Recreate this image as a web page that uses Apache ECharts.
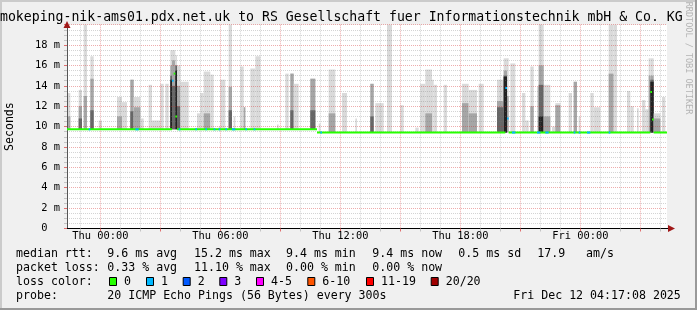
<!DOCTYPE html>
<html><head><meta charset="utf-8">
<script src="https://cdn.jsdelivr.net/npm/echarts@6/dist/echarts.min.js"></script>
<style>html,body{margin:0;padding:0;background:#f0f0f0}#c{width:697px;height:310px}</style>
</head><body><div id="c"></div>
<script>
// ---------- data ----------
const slotCount = 360; // 300 s steps, Wed 22:20 .. Fri 04:20
const xTickIdx = [20, 92, 164, 236, 308];
const xTickLabels = ['Thu 00:00', 'Thu 06:00', 'Thu 12:00', 'Thu 18:00', 'Fri 00:00'];
const yMin = 0, yMax = 20, yStep = 2;

// median rtt (ms) segments: start slot, length, value, lost pings
const medianStart = [0, 63, 64, 65, 66, 150, 263, 264, 265, 350, 351, 352,
  13, 41, 67, 77, 83, 88, 91, 95, 99, 107, 112,
  152, 267, 282, 287, 304, 307, 312, 325];
const medianLen = [63, 1, 1, 1, 84, 113, 1, 1, 85, 1, 1, 8,
  1, 2, 1, 1, 1, 1, 1, 1, 2, 1, 1,
  1, 2, 2, 2, 1, 1, 2, 1];
const medianVal = [9.73, 14.5, 15.2, 11.0, 9.73, 9.42, 13.8, 10.8, 9.42, 13.4, 10.7, 9.42,
  9.73, 9.73, 9.73, 9.73, 9.73, 9.73, 9.73, 9.73, 9.73, 9.73, 9.73,
  9.42, 9.42, 9.42, 9.42, 9.42, 9.42, 9.42, 9.42];
const medianLoss = [0, 1, 0, 0, 0, 0, 1, 1, 0, 0, 0, 0,
  1, 1, 1, 1, 1, 1, 1, 1, 1, 1, 1,
  1, 1, 1, 1, 1, 1, 1, 1];

// smoke (ping spread, ms): start slot, length, top of light / mid / dark / black bands
const smokeStart = [0, 7, 10, 14, 19, 30, 33, 38, 40, 44, 49, 51, 56, 59, 62, 63, 65, 66, 68, 78, 80, 82, 86, 91, 92, 97, 100, 104, 106, 110, 113, 126, 131, 134, 136,
  146, 151, 157, 165, 173, 182, 185, 192, 200, 209, 212, 215, 219, 220, 226, 237, 241, 247, 258, 262, 264, 266, 273, 275, 278, 282, 283, 286, 291, 293, 301, 304, 307, 314, 316, 325, 328, 336, 338, 342, 345, 347, 349, 350, 352, 357];
const smokeLen = [2, 2, 2, 2, 2, 3, 3, 2, 4, 2, 2, 5, 2, 2, 1, 2, 1, 2, 5, 2, 2, 4, 2, 1, 3, 2, 1, 2, 1, 3, 3, 1, 2, 2, 3,
  3, 1, 4, 3, 1, 2, 5, 3, 2, 2, 3, 4, 1, 2, 2, 4, 5, 3, 4, 2, 1, 3, 2, 2, 2, 2, 3, 4, 2, 3, 2, 2, 1, 2, 4, 3, 2, 2, 2, 1, 2, 2, 1, 2, 4, 2];
const smokeLight = [13.3, 13.6, 20.5, 16.9, 10.6, 12.9, 12.4, 14.6, 12.9, 10.8, 14.1, 10.6, 14.2, 14.2, 17.5, 17.5, 17.0, 16.0, 14.4, 11.3, 13.3, 15.4, 15.1, 10.0, 14.6, 20.5, 11.0, 15.9, 11.9, 15.7, 16.9, 10.2, 15.2, 15.2, 14.2,
  14.7, 10.3, 15.6, 13.3, 10.8, 14.2, 12.3, 20.5, 12.1, 9.9, 14.2, 15.6, 14.6, 14.1, 14.1, 14.2, 13.6, 14.2, 14.6, 16.7, 16.7, 16.2, 13.3, 10.6, 15.9, 13.9, 20.5, 14.1, 10.0, 12.3, 13.3, 14.4, 11.0, 13.3, 11.9, 20.5, 20.5, 13.5, 12.0, 11.8, 12.6, 11.7, 16.7, 16.7, 11.3, 12.9];
const smokeMid = [11.0, 12.0, 13.0, 14.7, 0, 11.0, 0, 14.6, 11.9, 0, 0, 0, 0, 0, 16.0, 16.5, 16.0, 14.0, 0, 0, 0, 11.3, 0, 0, 0, 13.9, 0, 0, 11.9, 0, 0, 0, 0, 15.2, 0,
  14.7, 0, 11.3, 0, 0, 14.2, 0, 0, 0, 0, 0, 11.3, 0, 0, 0, 12.3, 11.3, 0, 12.5, 15.5, 13.0, 0, 0, 0, 12.0, 0, 16.0, 11.0, 0, 12.1, 0, 14.4, 0, 0, 0, 15.2, 0, 0, 0, 0, 0, 0, 15.0, 15.0, 10.8, 0];
const smokeDark = [0, 10.8, 0, 11.6, 0, 0, 0, 11.5, 0, 0, 0, 0, 0, 0, 15.0, 14.0, 16.0, 12.0, 0, 0, 0, 0, 0, 0, 0, 11.6, 0, 0, 0, 0, 0, 0, 0, 11.6, 0,
  11.6, 0, 0, 0, 0, 11.0, 0, 0, 0, 0, 0, 0, 0, 0, 0, 0, 0, 0, 11.9, 15.0, 0, 0, 0, 0, 0, 0, 14.1, 0, 0, 0, 0, 0, 0, 0, 0, 0, 0, 0, 0, 0, 0, 0, 0, 14.6, 0, 0];
const smokeBlack = [0, 0, 0, 0, 0, 0, 0, 0, 0, 0, 0, 0, 0, 0, 14.6, 0, 15.5, 0, 0, 0, 0, 0, 0, 0, 0, 0, 0, 0, 0, 0, 0, 0, 0, 0, 0,
  0, 0, 0, 0, 0, 0, 0, 0, 0, 0, 0, 0, 0, 0, 0, 0, 0, 0, 0, 14.9, 0, 0, 0, 0, 0, 0, 11.0, 0, 0, 0, 0, 0, 0, 0, 0, 0, 0, 0, 0, 0, 0, 0, 0, 14.4, 0, 0];

const lossLabels = ['0', '1', '2', '3', '4-5', '6-10', '11-19', '20/20'];
const lossColors = ['#26ff00', '#00b8ff', '#0059ff', '#7e00ff', '#ff00ff', '#ff5500', '#ff0000', '#a00000'];

const statRows = [
  ['median rtt:', '9.6 ms avg', '15.2 ms max', '9.4 ms min', '9.4 ms now', '0.5 ms sd', '17.9', 'am/s'],
  ['packet loss:', '0.33 % avg', '11.10 % max', '0.00 % min', '0.00 % now']
];
const probeText = '20 ICMP Echo Pings (56 Bytes) every 300s';
const stampText = 'Fri Dec 12 04:17:08 2025';
const titleText = 'smokeping-nik-ams01.pdx.net.uk to RS Gesellschaft fuer Informationstechnik mbH & Co. KG';

// ---------- layout / style ----------
const MONO = '"DejaVu Sans Mono", monospace';
const smokeColors = ['#dadada', '#a6a6a6', '#666666', '#222222'];
const statX = [16, 107.3, 194, 286, 372.3, 458.3, 537.3, 586];
const rowY = [254, 268, 282, 296];
const boxX = [109, 146, 182.7, 219.3, 256, 307.3, 366, 430.7];

const cats = Array.from({length: slotCount + 1}, (_, i) => i);
const tickLabel = {};
xTickIdx.forEach((v, k) => tickLabel[v] = xTickLabels[k]);

const medianData = medianStart.map((s, k) => [s, medianLen[k], medianVal[k], medianLoss[k]]);
const smokeData = smokeStart.map((s, k) => [s, smokeLen[k], smokeLight[k], smokeMid[k], smokeDark[k], smokeBlack[k]]);

function baseAt(i) {
  let b = medianVal[0];
  for (let k = 0; k < medianStart.length; k++) {
    if (medianLen[k] >= 8 && medianStart[k] <= i) b = medianVal[k];
  }
  return b;
}

function smokeItem(params, api) {
  const s = api.value(0), n = api.value(1);
  const base = baseAt(s);
  const children = [];
  for (let j = 0; j < 4; j++) {
    let top = api.value(2 + j);
    if (!top || top <= base) continue;
    top = Math.min(top, yMax);
    const p0 = api.coord([s, base]);
    const p1 = api.coord([s + n, top]);
    children.push({type: 'rect', shape: {x: p0[0], y: p1[1], width: p1[0] - p0[0], height: p0[1] - p1[1]},
      style: {fill: smokeColors[j]}});
  }
  return {type: 'group', children};
}

function medianItem(params, api) {
  const s = api.value(0), n = api.value(1), v = api.value(2), loss = api.value(3);
  const p0 = api.coord([s, v]);
  const p1 = api.coord([s + n, v]);
  return {type: 'rect', shape: {x: p0[0], y: p0[1] - 1, width: p1[0] - p0[0], height: 2},
    style: {fill: lossColors[loss]}};
}

const graphics = [];
// frame
graphics.push({type: 'rect', shape: {x: 0, y: 0, width: 697, height: 2}, style: {fill: '#cbcbcb'}, silent: true});
graphics.push({type: 'rect', shape: {x: 0, y: 0, width: 2, height: 310}, style: {fill: '#cbcbcb'}, silent: true});
graphics.push({type: 'rect', shape: {x: 695, y: 0, width: 2, height: 310}, style: {fill: '#999999'}, silent: true});
graphics.push({type: 'rect', shape: {x: 0, y: 308, width: 697, height: 2}, style: {fill: '#999999'}, silent: true});
// title
graphics.push({type: 'text', style: {text: titleText, x: -8, y: 18, font: '13.2px ' + MONO, fill: '#000', align: 'left', verticalAlign: 'middle'}, silent: true});
// watermark
graphics.push({type: 'text', x: 688, y: 58, rotation: -Math.PI / 2, style: {text: 'RRDTOOL / TOBI OETIKER', x: 0, y: 0, font: '8.5px ' + MONO, fill: '#b4b4b4', align: 'center', verticalAlign: 'middle'}, silent: true});
// y axis name
graphics.push({type: 'text', x: 10, y: 126.6, rotation: Math.PI / 2, style: {text: 'Seconds', x: 0, y: 0, font: '11.6px ' + MONO, fill: '#000', align: 'center', verticalAlign: 'middle'}, silent: true});
// arrows
graphics.push({type: 'polygon', shape: {points: [[63.5, 28], [70.5, 28], [67, 21]]}, style: {fill: '#a01818'}, silent: true, z: 10});
graphics.push({type: 'line', shape: {x1: 667, y1: 228.5, x2: 669, y2: 228.5}, style: {stroke: '#000', lineWidth: 1}, silent: true, z: 10});
graphics.push({type: 'polygon', shape: {points: [[668, 225], [668, 232], [675, 228.5]]}, style: {fill: '#a01818'}, silent: true, z: 10});
// stats rows
statRows.forEach((row, r) => {
  row.forEach((t, c) => {
    graphics.push({type: 'text', style: {text: t, x: statX[c], y: rowY[r], font: '11.6px ' + MONO, fill: '#000', align: 'left', verticalAlign: 'middle'}, silent: true});
  });
});
// loss colour row
graphics.push({type: 'text', style: {text: 'loss color:', x: 16, y: rowY[2], font: '11.6px ' + MONO, fill: '#000', align: 'left', verticalAlign: 'middle'}, silent: true});
lossLabels.forEach((l, k) => {
  graphics.push({type: 'rect', shape: {x: boxX[k] + 0.5, y: rowY[2] - 4.5, width: 7, height: 8}, style: {fill: lossColors[k], stroke: '#000', lineWidth: 1}, silent: true});
  graphics.push({type: 'text', style: {text: l, x: boxX[k] + 15, y: rowY[2], font: '11.6px ' + MONO, fill: '#000', align: 'left', verticalAlign: 'middle'}, silent: true});
});
// probe row
graphics.push({type: 'text', style: {text: 'probe:', x: 16, y: rowY[3], font: '11.6px ' + MONO, fill: '#000', align: 'left', verticalAlign: 'middle'}, silent: true});
graphics.push({type: 'text', style: {text: probeText, x: statX[1], y: rowY[3], font: '11.6px ' + MONO, fill: '#000', align: 'left', verticalAlign: 'middle'}, silent: true});
graphics.push({type: 'text', style: {text: stampText, x: 513.3, y: rowY[3], font: '11.6px ' + MONO, fill: '#000', align: 'left', verticalAlign: 'middle'}, silent: true});

const minorX = i => i % 12 === 8 && i % 36 !== 20;
const majorX = i => i % 36 === 20;
const minorGrid = 'rgba(120,120,120,0.32)';
const majorGrid = 'rgba(210,40,40,0.38)';

const option = {
  animation: false,
  backgroundColor: '#f0f0f0',
  grid: {left: 67, top: 24.7, width: 600, height: 203.8, show: true, backgroundColor: '#ffffff', borderWidth: 0, containLabel: false, outerBoundsMode: 'none'},
  xAxis: [
    {type: 'category', data: cats, boundaryGap: false, z: 3,
      axisLine: {show: true, lineStyle: {color: '#000', width: 1}},
      axisTick: {show: true, interval: minorX, length: 3, lineStyle: {color: '#c4c4c4'}},
      axisLabel: {show: true, interval: i => tickLabel[i] !== undefined, formatter: v => tickLabel[+v] || '',
        fontFamily: MONO, fontSize: 10.4, color: '#000', margin: 3},
      splitLine: {show: true, interval: minorX, lineStyle: {color: minorGrid, width: 1, type: [1, 1]}}},
    {type: 'category', data: cats, boundaryGap: false, z: 3, position: 'bottom',
      axisLine: {show: false}, axisLabel: {show: false},
      axisTick: {show: true, interval: majorX, length: 3, lineStyle: {color: '#e07070'}},
      splitLine: {show: true, interval: majorX, lineStyle: {color: majorGrid, width: 1, type: [1, 1]}}}
  ],
  yAxis: {type: 'value', min: yMin, max: yMax, interval: yStep, z: 3,
    axisLine: {show: true, lineStyle: {color: '#555', width: 1}},
    axisTick: {show: true, length: 3, lineStyle: {color: '#e07070'}},
    minorTick: {show: true, splitNumber: 4, length: 3, lineStyle: {color: '#c4c4c4'}},
    axisLabel: {formatter: v => v === 0 ? '0  ' : v + ' m', showMaxLabel: false, fontFamily: MONO, fontSize: 10.4, color: '#000', margin: 7},
    splitLine: {show: true, lineStyle: {color: majorGrid, width: 1, type: [1, 1]}},
    minorSplitLine: {show: true, lineStyle: {color: minorGrid, width: 1, type: [1, 1]}}},
  series: [
    {type: 'custom', name: 'smoke', xAxisIndex: 0, yAxisIndex: 0, z: 2, silent: true, renderItem: smokeItem, data: smokeData},
    {type: 'custom', name: 'median', xAxisIndex: 0, yAxisIndex: 0, z: 5, silent: true, renderItem: medianItem, data: medianData}
  ],
  graphic: graphics
};

const chart = echarts.init(document.getElementById('c'), null, {renderer: 'canvas', width: 697, height: 310});
chart.setOption(option);
</script>
</body></html>
